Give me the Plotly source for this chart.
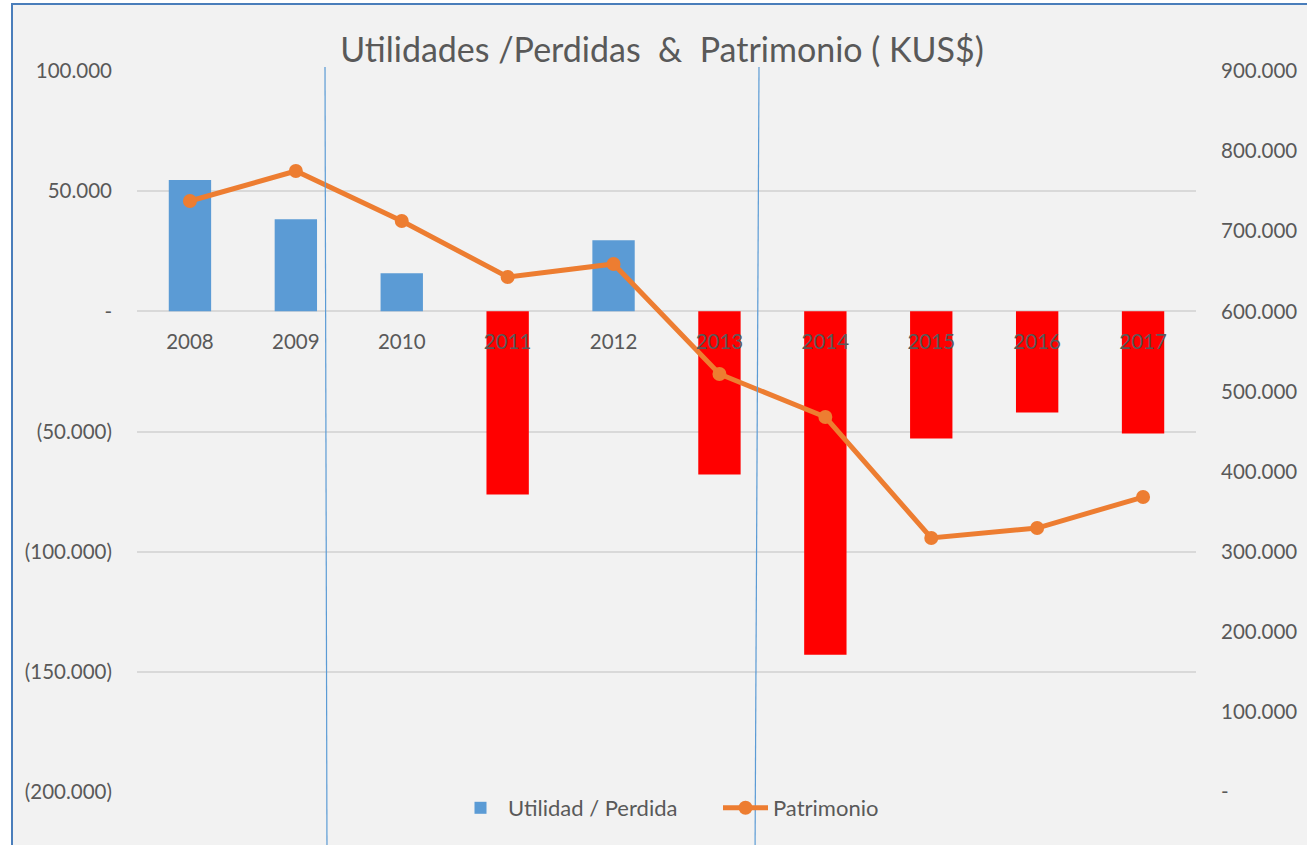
import plotly.graph_objects as go

years = ["2008", "2009", "2010", "2011", "2012", "2013", "2014", "2015", "2016", "2017"]
utilidad = [54600, 38300, 15800, -76200, 29600, -67900, -142900, -52900, -42100, -50800]
patrimonio = [737700, 775200, 712800, 642900, 659100, 521800, 468100, 317100, 329500, 368200]

left_vals = [-200000, -150000, -100000, -50000, 0, 50000, 100000]
left_text = ["(200.000)", "(150.000)", "(100.000)", "(50.000)", "-", "50.000", "100.000"]
right_vals = [0, 100000, 200000, 300000, 400000, 500000, 600000, 700000, 800000, 900000]
right_text = ["-", "100.000", "200.000", "300.000", "400.000", "500.000", "600.000", "700.000", "800.000", "900.000"]

BLUE = "#5B9BD5"
RED = "#FF0000"
ORANGE = "#ED7D31"
TXT = "#595959"
FONT = "Lato"

bar_colors = [BLUE if v >= 0 else RED for v in utilidad]

fig = go.Figure()
fig.add_trace(go.Bar(
    x=years, y=utilidad, name="Utilidad / Perdida",
    marker=dict(color=bar_colors, line=dict(width=0)),
    width=0.4, yaxis="y",
))
fig.add_trace(go.Scatter(
    x=years, y=patrimonio, name="Patrimonio", mode="lines+markers",
    line=dict(color=ORANGE, width=5),
    marker=dict(color=ORANGE, size=14),
    yaxis="y2",
))

# plot area in pixels: x 137..1196, y 71..792
L, R, T, B = 137, 1196, 71, 792
W, H = R - L, B - T
def px(x):
    return (x - L) / W
def py(y):
    return (B - y) / H

shapes = [
    dict(type="rect", xref="paper", yref="paper", layer="below",
         x0=px(12), x1=px(1330), y0=py(870), y1=py(4),
         fillcolor="#F2F2F2", line=dict(color="#4A7EBB", width=2)),
    dict(type="line", xref="paper", yref="paper", layer="above",
         x0=px(325), y0=py(67), x1=px(327), y1=py(860),
         line=dict(color=BLUE, width=1.2)),
    dict(type="line", xref="paper", yref="paper", layer="above",
         x0=px(759), y0=py(67), x1=px(755), y1=py(860),
         line=dict(color=BLUE, width=1.2)),
]

fig.update_layout(
    width=1307, height=845,
    margin=dict(l=L, r=1307 - R, t=T, b=845 - B, autoexpand=False),
    paper_bgcolor="white",
    plot_bgcolor="rgba(0,0,0,0)",
    font=dict(family=FONT, color=TXT, size=20.5),
    title=dict(text="Utilidades /Perdidas  &  Patrimonio ( KUS$)",
               x=662 / 1307, xref="container", xanchor="center",
               y=1 - 50 / 845, yref="container", yanchor="middle",
               font=dict(family=FONT, size=34, color=TXT)),
    showlegend=True,
    legend=dict(orientation="h", x=px(453), xanchor="left", y=py(808), yanchor="middle",
                bgcolor="rgba(0,0,0,0)", font=dict(size=22, color=TXT),
                itemwidth=45, entrywidth=205, entrywidthmode="pixels",
                traceorder="normal"),
    xaxis=dict(type="category", anchor="free", position=2 / 3, range=[-0.5, 9.5],
               showline=False, ticks="", showgrid=False, zeroline=False,
               tickfont=dict(size=20.5, color=TXT), ticklabelstandoff=16,
               layer="above traces"),
    yaxis=dict(range=[-200000, 100000], tickvals=left_vals, ticktext=left_text,
               showgrid=True, gridcolor="#D9D9D9", gridwidth=1.5, zeroline=False,
               showline=False, ticks="", tickfont=dict(size=20.5, color=TXT),
               ticklabelstandoff=24),
    yaxis2=dict(range=[0, 900000], tickvals=right_vals, ticktext=right_text,
                overlaying="y", side="right", showgrid=False, zeroline=False,
                showline=False, ticks="", tickfont=dict(size=20.5, color=TXT),
                ticklabelstandoff=24),
    shapes=shapes,
    bargap=0.6,
)

fig.write_html("out.html", config={"displayModeBar": False},
               post_script="document.body.style.margin='0';")
